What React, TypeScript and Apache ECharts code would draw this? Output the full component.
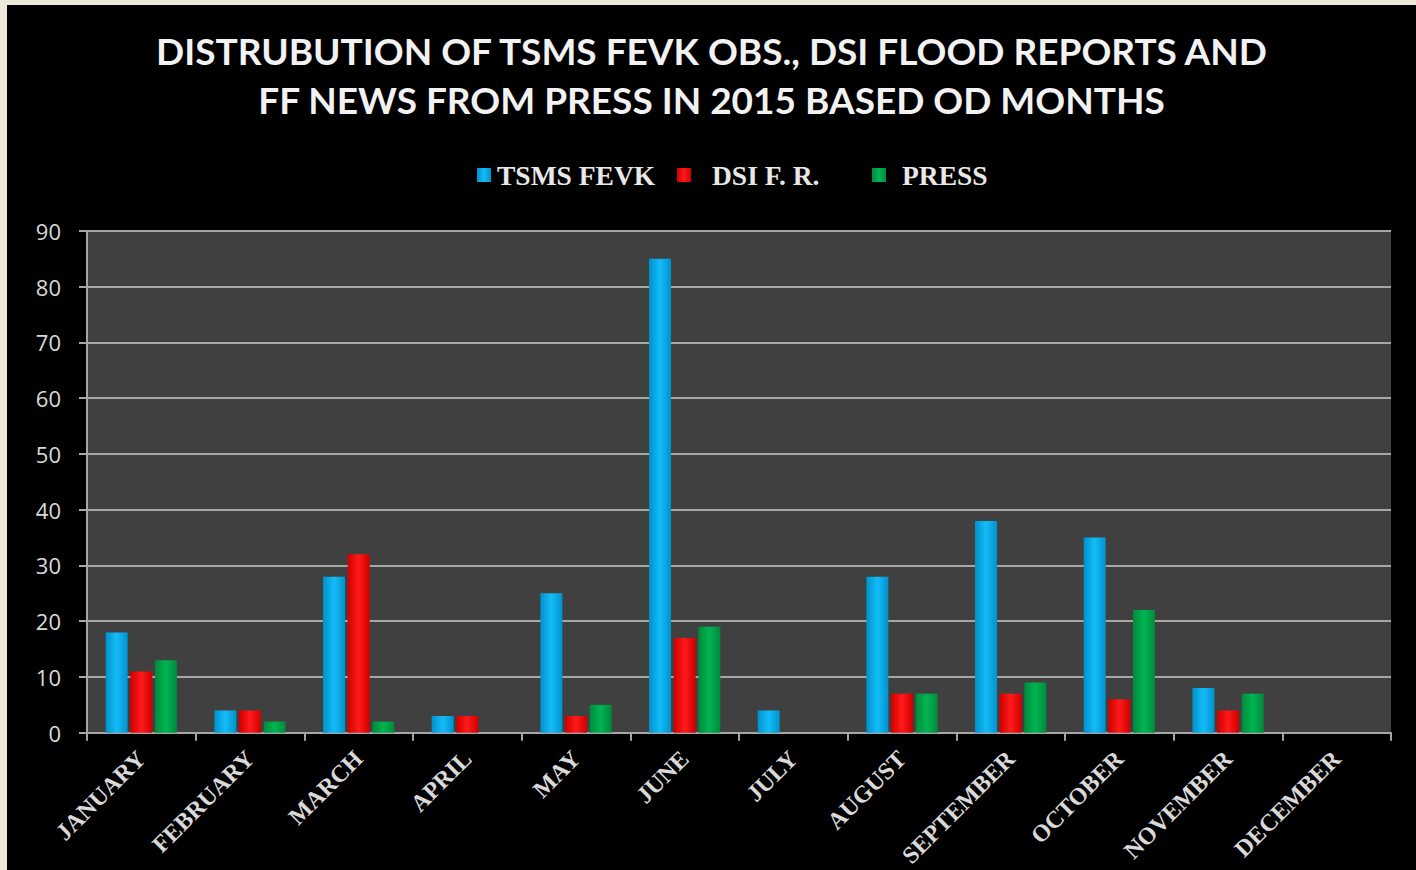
import React, { useEffect, useRef } from "react";
import * as echarts from "echarts";

const months = ["JANUARY", "FEBRUARY", "MARCH", "APRIL", "MAY", "JUNE", "JULY", "AUGUST", "SEPTEMBER", "OCTOBER", "NOVEMBER", "DECEMBER"];
const tsmsFevk = [18, 4, 28, 3, 25, 85, 4, 28, 38, 35, 8, 0];
const dsiFR = [11, 4, 32, 3, 3, 17, 0, 7, 7, 6, 4, 0];
const press = [13, 2, 2, 0, 5, 19, 0, 7, 9, 22, 7, 0];
const seriesNames = ["TSMS FEVK", "DSI F. R.", "PRESS"];
const titleLines = ["DISTRUBUTION OF TSMS FEVK OBS., DSI FLOOD REPORTS AND", "FF NEWS FROM PRESS IN 2015 BASED OD MONTHS"];

function grad(edge: string, mid: string) {
  return new echarts.graphic.LinearGradient(0, 0, 1, 0, [
    { offset: 0, color: edge },
    { offset: 0.5, color: mid },
    { offset: 1, color: edge },
  ]);
}

export default function App() {
  const ref = useRef<HTMLDivElement>(null);
  useEffect(() => {
    if (!ref.current) return;
    const chart = echarts.init(ref.current, undefined, { renderer: "svg" });
    const serif = "'Liberation Serif', 'Times New Roman', serif";
    const sans = "Lato, 'Open Sans', sans-serif";
    const legendBase = {
      top: 156,
      padding: 0,
      itemWidth: 14,
      itemHeight: 14,
      icon: "rect",
      textStyle: { color: "#E8E8E8", fontFamily: serif, fontWeight: "bold", fontSize: 27.5 },
    };
    chart.setOption({
      animation: false,
      backgroundColor: "#000000",
      title: {
        text: titleLines.join("\n"),
        left: "center",
        top: 16,
        textStyle: { color: "#F2F2F2", fontFamily: sans, fontWeight: "bold", fontSize: 37, lineHeight: 49 },
      },
      legend: [
        { ...legendBase, left: 470, data: [seriesNames[0]], textStyle: { ...legendBase.textStyle, padding: [0, 0, 0, 1] } },
        { ...legendBase, left: 670, data: [seriesNames[1]], textStyle: { ...legendBase.textStyle, padding: [0, 0, 0, 16] } },
        { ...legendBase, left: 865, data: [seriesNames[2]], textStyle: { ...legendBase.textStyle, padding: [0, 0, 0, 11] } },
      ],
      grid: {
        left: 80,
        top: 226,
        width: 1304,
        height: 503,
        show: true,
        backgroundColor: "#404040",
        borderWidth: 0,
      },
      xAxis: {
        type: "category",
        data: months,
        axisLine: { lineStyle: { color: "#A6A6A6", width: 2 } },
        axisTick: { show: true, length: 8, lineStyle: { color: "#A6A6A6", width: 2 } },
        axisLabel: {
          rotate: 45,
          margin: 22,
          color: "#D9D9D9",
          fontFamily: serif,
          fontWeight: "bold",
          fontSize: 24,
          interval: 0,
        },
      },
      yAxis: {
        type: "value",
        min: 0,
        max: 90,
        interval: 10,
        axisLine: { show: true, lineStyle: { color: "#A6A6A6", width: 2 } },
        axisTick: { show: true, length: 8, lineStyle: { color: "#A6A6A6", width: 2 } },
        splitLine: { lineStyle: { color: "#A6A6A6", width: 2 } },
        axisLabel: { color: "#D9D9D9", fontFamily: "'Open Sans', Lato, sans-serif", fontSize: 22, margin: 26 },
      },
      series: [
        {
          name: seriesNames[0],
          type: "bar",
          data: tsmsFevk,
          barWidth: 22,
          barGap: "12%",
          color: "#00B0F0",
          itemStyle: { color: grad("#0092CC", "#14BCF8") },
        },
        {
          name: seriesNames[1],
          type: "bar",
          data: dsiFR,
          barWidth: 22,
          barGap: "12%",
          color: "#FF0000",
          itemStyle: { color: grad("#D00000", "#FF1A1A") },
        },
        {
          name: seriesNames[2],
          type: "bar",
          data: press,
          barWidth: 22,
          barGap: "12%",
          color: "#00B050",
          itemStyle: { color: grad("#008A3C", "#00B552") },
        },
      ],
    });
    return () => chart.dispose();
  }, []);
  return (
    <div style={{ position: "fixed", left: 0, top: 0, width: 1416, height: 870, background: "#ECE9D8" }}>
      <div ref={ref} style={{ position: "absolute", left: 7, top: 5, width: 1409, height: 865 }} />
    </div>
  );
}
